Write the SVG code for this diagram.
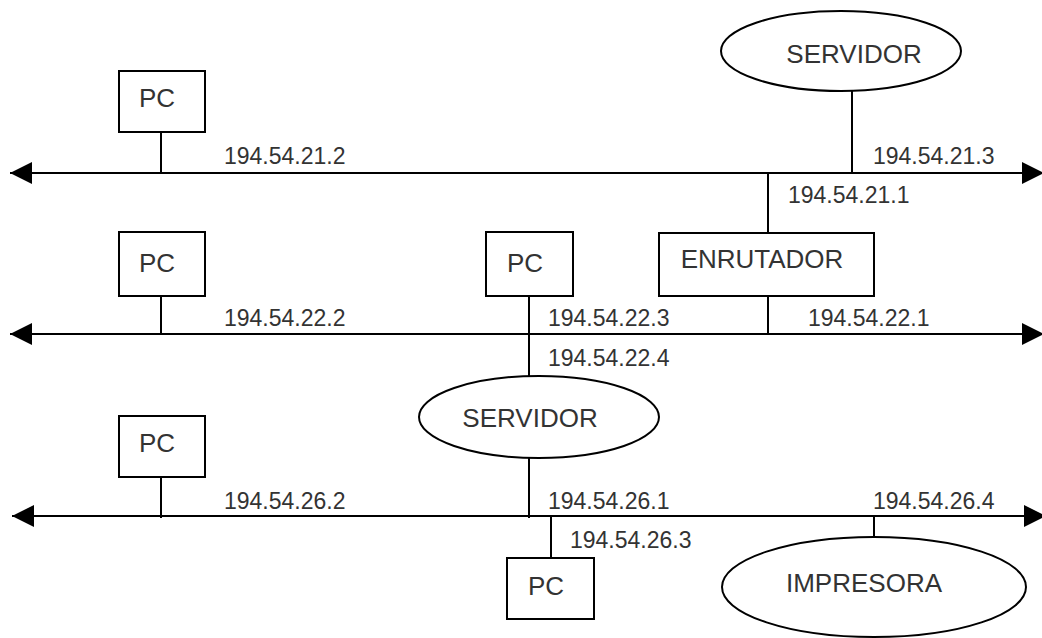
<svg xmlns="http://www.w3.org/2000/svg" width="1042" height="638" viewBox="0 0 1042 638">
  <defs>
    <marker id="tip" markerUnits="userSpaceOnUse" markerWidth="24" markerHeight="24" viewBox="0 0 24 22" refX="22" refY="11" orient="auto-start-reverse">
      <path d="M0,0 L22,11 L0,22 Z" fill="#000"/>
    </marker>
  </defs>
  <style>
    .box { fill: #fff; stroke: #000; stroke-width: 2; }
    .wire { fill: none; stroke: #000; stroke-width: 2; }
    .bus { fill: none; stroke: #000; stroke-width: 2.2; marker-start: url(#tip); marker-end: url(#tip); }
    .name { font-family: "Liberation Sans", Arial, sans-serif; font-size: 26px; fill: #333; text-anchor: middle; }
    .ip { font-family: "Liberation Sans", Arial, sans-serif; font-size: 23px; fill: #333; }
  </style>
  <rect width="1042" height="638" fill="#fff"/>

  <!-- connectors: three network segments and their drop lines -->
  <g id="connectors">
    <line class="bus" x1="10" y1="173" x2="1044" y2="173"/>
    <line class="bus" x1="10" y1="334" x2="1044" y2="334"/>
    <line class="bus" x1="12" y1="516" x2="1046" y2="516"/>

    <line class="wire" x1="161" y1="132" x2="161" y2="173"/>
    <line class="wire" x1="852" y1="91" x2="852" y2="173"/>
    <line class="wire" x1="768" y1="173" x2="768" y2="233"/>

    <line class="wire" x1="161" y1="296" x2="161" y2="334"/>
    <line class="wire" x1="529" y1="296" x2="529" y2="376"/>
    <line class="wire" x1="768" y1="296" x2="768" y2="334"/>

    <line class="wire" x1="161" y1="477" x2="161" y2="518"/>
    <line class="wire" x1="529" y1="458" x2="529" y2="518"/>
    <line class="wire" x1="551" y1="516" x2="551" y2="558"/>
    <line class="wire" x1="874" y1="516" x2="874" y2="537"/>
  </g>

  <!-- address labels -->
  <g id="addresses">
    <text class="ip" x="224" y="164">194.54.21.2</text>
    <text class="ip" x="873" y="164">194.54.21.3</text>
    <text class="ip" x="788" y="203">194.54.21.1</text>
    <text class="ip" x="224" y="326">194.54.22.2</text>
    <text class="ip" x="548" y="326">194.54.22.3</text>
    <text class="ip" x="808" y="326">194.54.22.1</text>
    <text class="ip" x="548" y="366">194.54.22.4</text>
    <text class="ip" x="224" y="509">194.54.26.2</text>
    <text class="ip" x="548" y="509">194.54.26.1</text>
    <text class="ip" x="873" y="509">194.54.26.4</text>
    <text class="ip" x="570" y="548">194.54.26.3</text>
  </g>

  <g id="pc-1">
    <rect class="box" x="119" y="71" width="86" height="61"/>
    <text class="name" x="157" y="107">PC</text>
  </g>
  <g id="servidor-1">
    <ellipse class="box" cx="841" cy="51" rx="120" ry="40"/>
    <text class="name" x="854" y="63">SERVIDOR</text>
  </g>

  <g id="pc-2">
    <rect class="box" x="119" y="232" width="86" height="64"/>
    <text class="name" x="157" y="272">PC</text>
  </g>
  <g id="pc-3">
    <rect class="box" x="486" y="232" width="87" height="64"/>
    <text class="name" x="525" y="272">PC</text>
  </g>
  <g id="enrutador">
    <rect class="box" x="659" y="233" width="215" height="63"/>
    <text class="name" x="762" y="268">ENRUTADOR</text>
  </g>

  <g id="servidor-2">
    <ellipse class="box" cx="539" cy="417" rx="120" ry="41"/>
    <text class="name" x="530" y="427">SERVIDOR</text>
  </g>

  <g id="pc-4">
    <rect class="box" x="119" y="416" width="86" height="61"/>
    <text class="name" x="157" y="452">PC</text>
  </g>
  <g id="pc-5">
    <rect class="box" x="507" y="558" width="87" height="61"/>
    <text class="name" x="546" y="595">PC</text>
  </g>
  <g id="impresora">
    <ellipse class="box" cx="874" cy="587" rx="152" ry="50"/>
    <text class="name" x="864" y="592">IMPRESORA</text>
  </g>
</svg>
